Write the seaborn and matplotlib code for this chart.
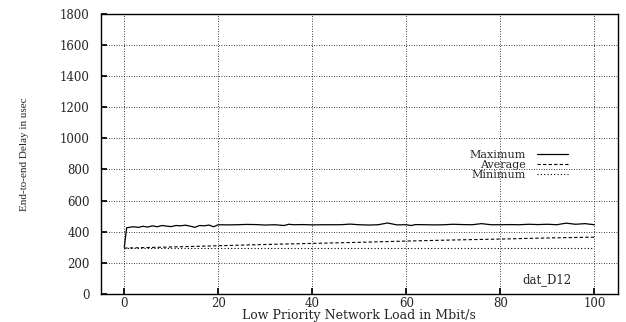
import numpy as np
import pandas as pd
import seaborn as sns
import matplotlib
matplotlib.use("Agg")
import matplotlib.pyplot as plt

# --- data ---
max_load = [0, 0.5, 1, 2, 3, 4, 5, 6, 7, 8, 9, 10, 11, 12, 13, 14, 15, 16, 17, 18, 19, 20,
            22, 24, 26, 28, 30, 32, 34, 35, 36, 38, 40, 42, 44, 46, 48, 50, 52, 54, 56, 58,
            60, 61, 62, 64, 66, 68, 70, 72, 74, 76, 78, 80, 82, 84, 86, 88, 90, 92, 94, 96, 98, 100]
max_delay = [300, 425, 428, 432, 428, 435, 430, 438, 432, 440, 436, 433, 440, 438, 442, 436, 428,
             440, 438, 443, 432, 445, 444, 445, 447, 446, 443, 445, 440, 448, 445, 446, 444, 445,
             445, 445, 449, 445, 443, 445, 456, 444, 445, 440, 446, 445, 444, 445, 448, 446, 445,
             452, 445, 445, 446, 445, 448, 446, 448, 445, 455, 448, 452, 445]
avg_load = [0, 10, 20, 30, 40, 50, 60, 70, 80, 90, 100]
avg_delay = [295, 302, 310, 318, 325, 332, 340, 347, 353, 360, 365]
min_load = [0, 20, 40, 60, 80, 100]
min_delay = [295, 295, 295, 295, 295, 295]

sns.set_theme(style="ticks")
plt.rcParams['font.family'] = ['DejaVu Serif']

fig = plt.figure(figsize=(6.26, 3.22), dpi=100)
ax = fig.add_axes([0.161, 0.087, 0.826, 0.870])

sns.lineplot(x=max_load, y=max_delay, ax=ax, color="black", lw=0.9, label="Maximum")
sns.lineplot(x=avg_load, y=avg_delay, ax=ax, color="black", lw=0.8, ls=(0, (3, 2)), label="Average")
sns.lineplot(x=min_load, y=min_delay, ax=ax, color="black", lw=0.8, ls=(0, (1, 2)), label="Minimum")

ax.set_xlim(-5, 105)
ax.set_ylim(0, 1800)
ax.set_xticks(range(0, 101, 20))
ax.set_yticks(range(0, 1801, 200))
ax.grid(True, color="black", ls=(0, (1, 2)), lw=0.6)
ax.tick_params(labelsize=8.5, direction="in", length=4, color="black")
ax.tick_params(axis="y", pad=8)
ax.tick_params(axis="x", pad=2)
for s in ax.spines.values():
    s.set_color("black")
    s.set_linewidth(1.0)

ax.set_xlabel("Low Priority Network Load in Mbit/s", fontsize=9, va="center")
ax.xaxis.set_label_coords(0.5, -0.076)
ax.set_ylabel("End-to-end Delay in usec", fontsize=8, labelpad=22,
              family=['Liberation Serif'])
ax.text(90, 95, "dat_D12", fontsize=8.5, ha="center", va="center")

leg = ax.legend(loc="center right", bbox_to_anchor=(0.915, 0.46), frameon=False, fontsize=8,
                markerfirst=False, handlelength=2.8, labelspacing=0.0, borderpad=0,
                handletextpad=1.0)
for t in leg.get_texts():
    t.set_ha("right")
leg._legend_box.align = "right"

fig.savefig("out.png", dpi=100)
